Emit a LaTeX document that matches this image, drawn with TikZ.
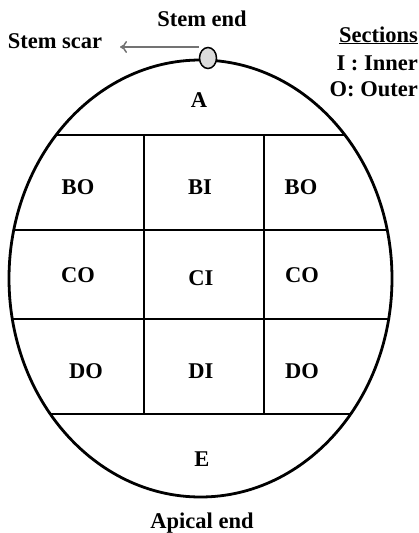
\documentclass[tikz,border=0pt]{standalone}
\usepackage{fontspec}
\setmainfont{Liberation Serif}
\usetikzlibrary{arrows.meta,shapes.geometric}
\begin{document}
\begin{tikzpicture}[x=1pt,y=-1pt,
  lbl/.style={font=\fontsize{22.5}{27}\selectfont\bfseries, anchor=base, inner sep=0pt},
  rlbl/.style={lbl, anchor=base east},
  outline/.style={line width=2.8pt},
  grid/.style={line width=2.5pt},
  scar/.style={draw=black, line width=1.5pt, fill=black!14, ellipse, minimum width=17pt, minimum height=21pt, inner sep=0pt},
  scararrow/.style={draw=black!55, line width=1.5pt, -{To[length=7pt,width=12pt]}}]
\useasboundingbox (0,0) rectangle (418,533);
% grid lines clipped by fruit outline
\begin{scope}
  \clip (200.5,278.5) ellipse [x radius=191.5, y radius=218.5];
  \draw[grid] (0,135) -- (418,135);
  \draw[grid] (0,230) -- (418,230);
  \draw[grid] (0,319) -- (418,319);
  \draw[grid] (0,414) -- (418,414);
\end{scope}
\draw[grid] (144,135) -- (144,414);
\draw[grid] (264,135) -- (264,414);
\draw[outline] (200.5,278.5) ellipse [x radius=191.5, y radius=218.5];
% stem scar
\node[scar] (dot) at (208,58) {};
\coordinate (arrowend) at (120,47);
\draw[scararrow] (dot.west |- arrowend) -- (arrowend);
% labels
\node[lbl] (stemend) at (202,26) {Stem end};
\node[lbl] (stemscar) at (55,48) {Stem scar};
\node[rlbl] (sections) at (418,42) {\underline{Sections}};
\node[rlbl] (inner) at (418,70) {I : Inner};
\node[rlbl] (outer) at (418,96) {O: Outer};
\node[lbl] (A) at (199,107) {A};
\node[lbl] (BO1) at (78,194) {BO};
\node[lbl] (BI) at (200,194) {BI};
\node[lbl] (BO2) at (301,194) {BO};
\node[lbl] (CO1) at (78,282) {CO};
\node[lbl] (CI) at (201,285) {CI};
\node[lbl] (CO2) at (302,282) {CO};
\node[lbl] (DO1) at (86,378) {DO};
\node[lbl] (DI) at (201,378) {DI};
\node[lbl] (DO2) at (302,378) {DO};
\node[lbl] (E) at (202,466) {E};
\node[lbl] (apical) at (202,528) {Apical end};
\end{tikzpicture}
\end{document}
